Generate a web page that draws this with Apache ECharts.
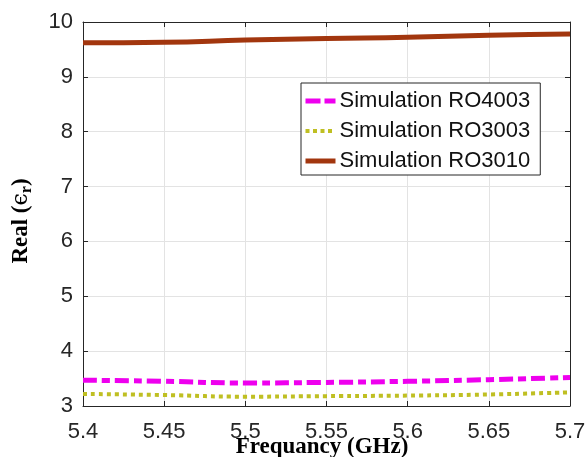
<!DOCTYPE html>
<html><head><meta charset="utf-8">
<script src="https://cdn.jsdelivr.net/npm/echarts@6/dist/echarts.min.js"></script>
<style>html,body{margin:0;padding:0;background:#fff}#c{width:585px;height:457px}</style>
</head><body><div id="c"></div>
<script>
const freq = [5.40, 5.45, 5.50, 5.55, 5.60, 5.65, 5.70];
const ro4003 = [3.47, 3.45, 3.42, 3.43, 3.45, 3.48, 3.52];
const ro3003 = [3.22, 3.20, 3.17, 3.18, 3.19, 3.21, 3.25];
const ro3010 = [9.62, 9.63, 9.67, 9.70, 9.72, 9.76, 9.78];
const seriesNames = ['Simulation RO4003', 'Simulation RO3003', 'Simulation RO3010'];
const xTicks = {min: 5.4, max: 5.7, step: 0.05};
const yTicks = {min: 3, max: 10, step: 1};

const pairs = a => freq.map((f, i) => [f, a[i]]);
const chart = echarts.init(document.getElementById('c'), null, {renderer: 'canvas'});
const axisLineStyle = {color: '#262626', width: 1};
const tickFont = {fontFamily: 'Liberation Sans, Arial, sans-serif', fontSize: 22, color: '#262626'};
const styles = [
  {color: '#ee00ee', width: 5, type: [14, 5, 8, 5]},
  {color: '#bfbf22', width: 4, type: [4, 4]},
  {color: '#a2360e', width: 5, type: 'solid'}
];
const legendStyles = [
  {color: '#ee00ee', width: 5, type: [15, 4, 11, 4]},
  {color: '#bfbf22', width: 4, type: [4, 3.5]},
  {color: '#a2360e', width: 5, type: 'solid'}
];
chart.setOption({
  animation: false,
  backgroundColor: '#fff',
  grid: {left: 83, right: 15, top: 22, bottom: 51, show: false, outerBoundsMode: 'none', containLabel: false},
  legend: {
    data: seriesNames.map((n, i) => ({name: n, lineStyle: legendStyles[i]})),
    orient: 'vertical',
    left: 301, top: 83,
    padding: [7, 10, 3, 2],
    itemGap: 8,
    itemWidth: 30, itemHeight: 22,
    itemStyle: {opacity: 0},
    borderColor: '#262626', borderWidth: 1, borderRadius: 0,
    backgroundColor: '#fff',
    textStyle: {fontFamily: 'Liberation Sans, Arial, sans-serif', fontSize: 22, color: '#111', padding: [0,0,0,-1]}
  },
  xAxis: [{
    type: 'value', min: xTicks.min, max: xTicks.max, interval: xTicks.step,
    axisLine: {show: true, lineStyle: axisLineStyle},
    axisTick: {show: true, inside: true, length: 5, lineStyle: axisLineStyle},
    axisLabel: Object.assign({margin: 15, formatter: v => String(+v.toFixed(2))}, tickFont),
    splitLine: {show: true, lineStyle: {color: '#e3e3e3', width: 1}},
    name: 'Frequancy (GHz)', nameLocation: 'middle', nameGap: 30, nameMoveOverlap: false,
    nameTextStyle: {fontFamily: 'Liberation Serif, Times New Roman, serif', fontWeight: 'bold', fontSize: 23, color: '#000', padding: [0, 9, 0, 0]}
  }, {
    type: 'value', position: 'top', min: xTicks.min, max: xTicks.max, interval: xTicks.step,
    axisLine: {show: true, lineStyle: axisLineStyle},
    axisTick: {show: true, inside: true, length: 5, lineStyle: axisLineStyle},
    axisLabel: {show: false}, splitLine: {show: false}
  }],
  yAxis: [{
    type: 'value', min: yTicks.min, max: yTicks.max, interval: yTicks.step,
    axisLine: {show: true, lineStyle: axisLineStyle},
    axisTick: {show: true, inside: true, length: 5, lineStyle: axisLineStyle},
    axisLabel: Object.assign({margin: 10}, tickFont),
    splitLine: {show: true, lineStyle: {color: '#e3e3e3', width: 1}},
    name: '{a|Real (}{e|ϵ}{s|r}{a|)}', nameLocation: 'middle', nameGap: 48, nameRotate: 90, nameMoveOverlap: false,
    nameTextStyle: {
      padding: [0, 14, 0, 0],
      rich: {
        a: {fontFamily: 'Liberation Serif, Times New Roman, serif', fontWeight: 'bold', fontSize: 23, color: '#000'},
        e: {fontFamily: 'DejaVu Serif, serif', fontSize: 22, color: '#000'},
        s: {fontFamily: 'Liberation Serif, Times New Roman, serif', fontWeight: 'bold', fontSize: 16, color: '#000', padding: [12, 0, 0, 0]}
      }
    }
  }, {
    type: 'value', position: 'right', min: yTicks.min, max: yTicks.max, interval: yTicks.step,
    axisLine: {show: true, lineStyle: axisLineStyle},
    axisTick: {show: true, inside: true, length: 5, lineStyle: axisLineStyle},
    axisLabel: {show: false}, splitLine: {show: false}
  }],
  series: [
    {name: seriesNames[0], type: 'line', data: pairs(ro4003), symbol: 'none', smooth: true,
     lineStyle: styles[0], itemStyle: {color: styles[0].color}},
    {name: seriesNames[1], type: 'line', data: pairs(ro3003), symbol: 'none', smooth: true,
     lineStyle: styles[1], itemStyle: {color: styles[1].color}},
    {name: seriesNames[2], type: 'line', data: pairs(ro3010), symbol: 'none', smooth: true,
     lineStyle: styles[2], itemStyle: {color: styles[2].color}}
  ]
});
</script></body></html>
